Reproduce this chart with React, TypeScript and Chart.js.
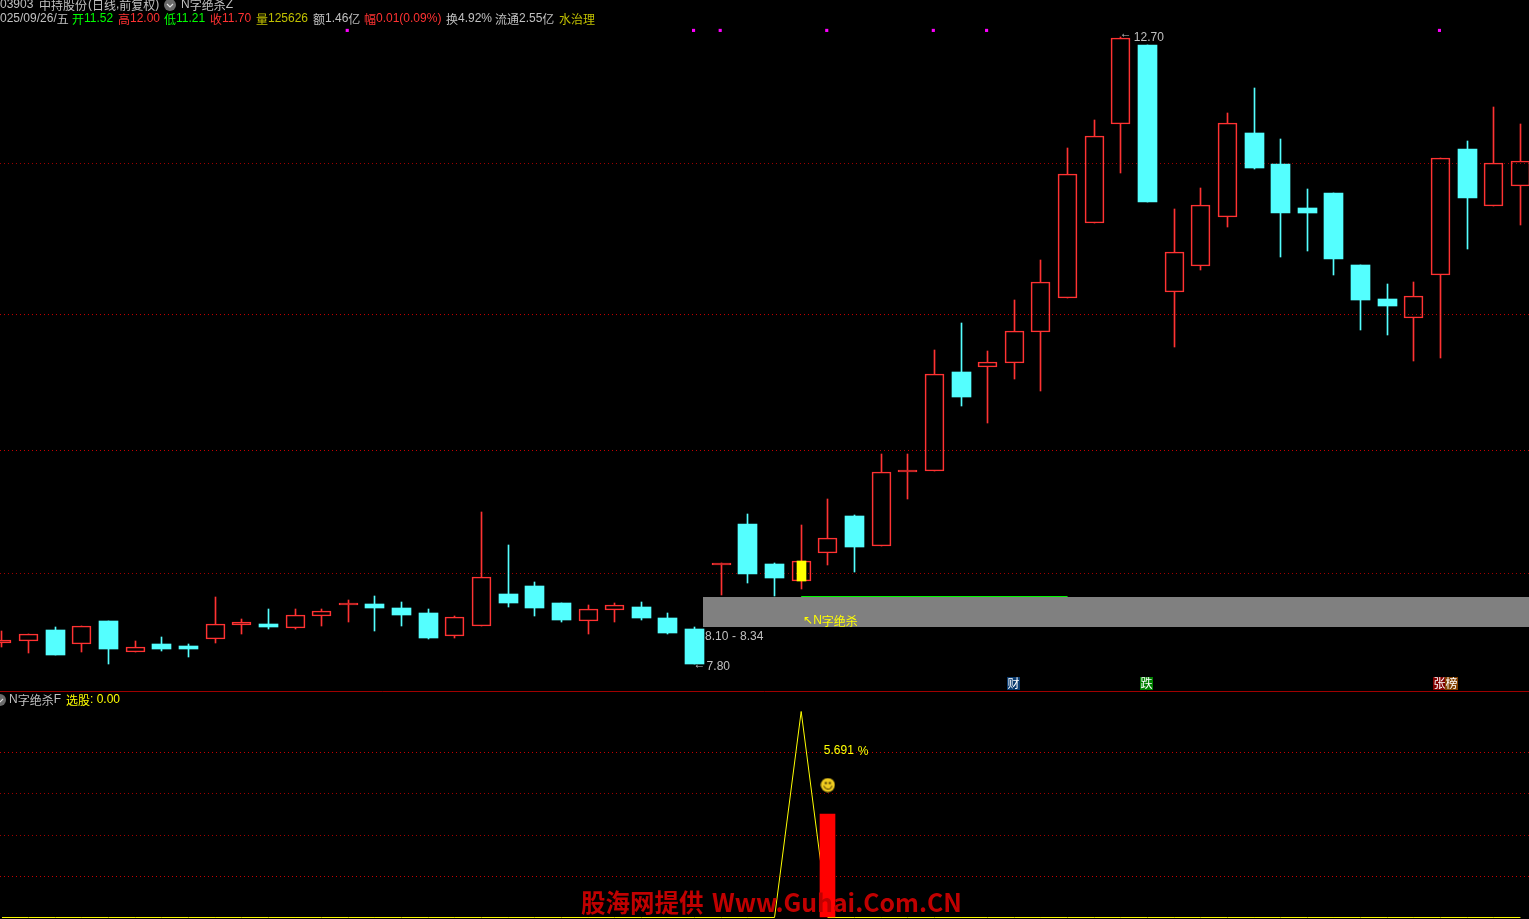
import React, { useEffect, useRef } from "react";
import { Chart, registerables } from "chart.js";

Chart.register(...registerables);

// Daily candles, 0..57, prices
const opens = [7.964,7.98,8.066,7.956,8.136,7.894,7.956,7.941,7.995,8.105,8.113,8.081,8.175,8.261,8.269,8.238,8.198,8.019,8.097,8.347,8.409,8.277,8.136,8.222,8.245,8.159,8.073,8.573,8.894,8.581,8.448,8.667,8.956,8.722,9.3,9.308,10.081,10.12,10.152,10.394,10.659,11.245,12.019,12.636,10.706,10.909,11.292,11.948,11.706,11.363,11.48,10.917,10.652,10.503,10.839,11.823,11.378,11.534];
const closes = [7.988,8.034,7.87,8.097,7.917,7.933,7.917,7.917,8.113,8.128,8.089,8.183,8.214,8.277,8.238,8.183,8.003,8.167,8.48,8.277,8.238,8.144,8.23,8.261,8.159,8.042,7.8,8.589,8.503,8.472,8.605,8.784,8.714,9.3,9.316,10.066,9.886,10.159,10.402,10.784,11.628,11.925,12.691,11.409,11.019,11.386,12.027,11.675,11.323,11.323,10.964,10.644,10.597,10.675,11.753,11.441,11.714,11.73];
const highs = [8.058,8.034,8.089,8.097,8.136,7.98,8.011,7.956,8.323,8.152,8.23,8.23,8.23,8.3,8.331,8.284,8.23,8.175,8.988,8.73,8.441,8.277,8.261,8.277,8.284,8.198,8.089,8.589,8.972,8.589,8.886,9.089,8.964,9.441,9.441,10.253,10.464,10.245,10.644,10.956,11.831,12.05,12.7,12.636,11.355,11.519,12.105,12.3,11.902,11.511,11.48,10.917,10.769,10.784,11.753,11.886,12.152,12.019];
const lows = [7.933,7.886,7.87,7.894,7.8,7.894,7.902,7.855,7.964,8.034,8.073,8.073,8.097,8.128,8.058,8.097,7.995,8.003,8.097,8.245,8.175,8.128,8.034,8.128,8.144,8.034,7.8,8.339,8.433,8.331,8.386,8.573,8.519,8.722,9.089,9.308,9.816,9.683,10.027,9.933,10.659,11.245,11.636,11.409,10.277,10.878,11.214,11.667,10.98,11.027,10.839,10.409,10.37,10.167,10.191,11.042,11.378,11.23];

const dimLevels = [11.71, 8.507];
const brightLevels = [10.53, 9.468];
const lowerLevels = [0.801, 0.602, 0.398, 0.199];
const dividerValue = 1.097;

const markerDays = [13, 26, 27, 31, 35, 37, 54];
const markerPrice = 12.75;

const highDay = 42;
const lowDay = 26;
const highlightDay = 30;
const bandRange = [8.0891, 8.3234];
const bandStart = 26.3146;
const greenDays = [30, 40];
const greenPrice = 8.327;

const signal = [0,0,0,0,0,0,0,0,0,0,0,0,0,0,0,0,0,0,0,0,0,0,0,0,0,0,0,0,0,0,1,0,0,0,0,0,0,0,0,0,0,0,0,0,0,0,0,0,0,0,0,0,0,0,0,0,0,0];
const signalBarDay = 31;
const signalBarValue = 0.5;
const smileValue = 0.643;

const X_MIN = -0.07432;
const X_MAX = 57.3206;
const Y_TOP = 12.9875;
const Y_BOTTOM = 5.8078;
const Y1_TOP = 4.4539;
const Y1_BOTTOM = -0.0073;

const RED = "#ff3232";
const CYAN = "#54ffff";
const GREY = "#c0c0c0";
const YELLOW = "#ffff00";
const DARKY = "#c0c000";
const GREEN = "#00ff00";

const days = opens.map((_, i) => i);
const isUp = (i: number) => closes[i] >= opens[i];

const CJK = /[\u3000-\u9fff\uff00-\uffef]+|[^\u3000-\u9fff\uff00-\uffef]+/g;

function run(ctx: CanvasRenderingContext2D, text: string, x: number, y: number, color: string) {
  let cx = x;
  ctx.fillStyle = color;
  ctx.textBaseline = "middle";
  ctx.textAlign = "left";
  for (const part of text.match(CJK) || []) {
    const cjk = /[\u3000-\u9fff\uff00-\uffef]/.test(part);
    ctx.font = cjk ? '12px "Noto Sans CJK SC"' : '12px "Liberation Sans"';
    ctx.fillText(part, cx, y);
    cx += ctx.measureText(part).width;
  }
}

function badge(ctx: CanvasRenderingContext2D, text: string, x: number, y: number, bg: string) {
  ctx.fillStyle = bg;
  ctx.fillRect(x, y, 13, 13);
  ctx.fillStyle = "#ffffff";
  ctx.font = '12px "Noto Sans CJK SC"';
  ctx.textBaseline = "middle";
  ctx.textAlign = "center";
  ctx.fillText(text, x + 6.5, y + 6.5);
}

function icon(ctx: CanvasRenderingContext2D, x: number, y: number) {
  ctx.fillStyle = "#6a6a6a";
  ctx.beginPath();
  ctx.arc(x, y, 6, 0, Math.PI * 2);
  ctx.fill();
  ctx.strokeStyle = "#e0e0e0";
  ctx.lineWidth = 1.2;
  ctx.beginPath();
  ctx.moveTo(x - 3, y - 1);
  ctx.lineTo(x, y + 2);
  ctx.lineTo(x + 3, y - 1);
  ctx.stroke();
}

function smileCanvas() {
  const c = document.createElement("canvas");
  c.width = 15;
  c.height = 15;
  const g = c.getContext("2d")!;
  g.fillStyle = "#f0cc20";
  g.beginPath();
  g.arc(7.5, 7.5, 7, 0, Math.PI * 2);
  g.fill();
  g.fillStyle = "#403000";
  g.fillRect(4.5, 4.5, 2, 2);
  g.fillRect(8.5, 4.5, 2, 2);
  g.strokeStyle = "#403000";
  g.lineWidth = 1;
  g.beginPath();
  g.arc(7.5, 7.5, 4, 0.2, Math.PI - 0.2);
  g.stroke();
  return c;
}

const snapBars = {
  id: "snapBars",
  beforeDatasetsDraw(chart: any) {
    chart.data.datasets.forEach((ds: any, i: number) => {
      if (ds.type === "line" || ds.type === "scatter") return;
      for (const el of chart.getDatasetMeta(i).data) {
        el.x = Math.floor(el.x) + 0.5;
        el.y = Math.round(el.y);
        el.base = Math.round(el.base);
      }
    });
  },
};

const textLayer = {
  id: "textLayer",
  afterDatasetsDraw(chart: any) {
    const ctx: CanvasRenderingContext2D = chart.ctx;
    const { x: xs, y: ys, y1 } = chart.scales;
    ctx.save();

    // header rows
    run(ctx, "603903", -6.67, 5, GREY);
    run(ctx, "中持股份", 39, 5, GREY);
    run(ctx, "(日线,前复权)", 88, 5, GREY);
    icon(ctx, 170, 5);
    run(ctx, "N字绝杀Z", 181, 5, GREY);

    run(ctx, "2025/09/26/五", -6.67, 19, GREY);
    run(ctx, "开", 72, 19, GREEN);
    run(ctx, "11.52", 84, 19, GREEN);
    run(ctx, "高", 118, 19, RED);
    run(ctx, "12.00", 130, 19, RED);
    run(ctx, "低", 164, 19, GREEN);
    run(ctx, "11.21", 176, 19, GREEN);
    run(ctx, "收", 210, 19, RED);
    run(ctx, "11.70", 222, 19, RED);
    run(ctx, "量", 256, 19, DARKY);
    run(ctx, "125626", 268, 19, DARKY);
    run(ctx, "额1.46亿", 313, 19, GREY);
    run(ctx, "幅", 364, 19, RED);
    run(ctx, "0.01(0.09%)", 376, 19, RED);
    run(ctx, "换4.92%", 446, 19, GREY);
    run(ctx, "流通2.55亿", 495, 19, GREY);
    run(ctx, "水治理", 559, 19, DARKY);

    // chart annotations, anchored on the scales
    const px = (i: number) => xs.getPixelForValue(i);
    run(ctx, "←", px(highDay) - 1, ys.getPixelForValue(highs[highDay]) - 3, GREY);
    run(ctx, "12.70", px(highDay) + 13, ys.getPixelForValue(highs[highDay]) + 1, GREY);
    run(ctx, "←", px(lowDay) - 1, ys.getPixelForValue(lows[lowDay]) + 1, GREY);
    run(ctx, "7.80", px(lowDay) + 12, ys.getPixelForValue(lows[lowDay]) + 3, GREY);
    const bandLow = ys.getPixelForValue(bandRange[0]);
    run(ctx, "8.10", 705, bandLow + 10, GREY);
    run(ctx, "-", 732, bandLow + 10, GREY);
    run(ctx, "8.34", 740, bandLow + 10, GREY);
    run(ctx, "↖", px(highlightDay) + 2, bandLow - 6, YELLOW);
    run(ctx, "N字绝杀", px(highlightDay) + 12, bandLow - 6, YELLOW);

    run(ctx, "5.691", px(signalBarDay) - 4, y1.getPixelForValue(0.81), YELLOW);
    run(ctx, "%", px(signalBarDay) + 30, y1.getPixelForValue(0.806), YELLOW);

    // event badges
    badge(ctx, "财", 1007, 677, "#0a3a6e");
    badge(ctx, "跌", 1140, 677, "#008000");
    badge(ctx, "张", 1433, 677, "#800000");
    badge(ctx, "榜", 1445, 677, "#804000");

    // lower panel title
    icon(ctx, 0, 700);
    run(ctx, "N字绝杀F", 9, 700, GREY);
    run(ctx, "选股", 66, 700, YELLOW);
    run(ctx, ": 0.00", 90, 700, YELLOW);

    // watermark
    ctx.fillStyle = "#c00000";
    ctx.textBaseline = "middle";
    ctx.textAlign = "left";
    ctx.font = 'bold 24.5px "Noto Sans CJK SC"';
    ctx.fillText("股海网提供", 581, 903);
    ctx.font = 'bold 24.8px "Noto Sans CJK SC"';
    ctx.fillText("Www.Guhai.Com.CN", 712, 903);
    ctx.restore();
  },
};

const hLine = (value: number, axis: string, color: string, dash: number[], order: number) => ({
  type: "line",
  yAxisID: axis,
  data: [{ x: X_MIN, y: value }, { x: X_MAX, y: value }],
  borderColor: color,
  borderWidth: 1,
  borderDash: dash,
  pointRadius: 0,
  order,
});

export default function App() {
  const ref = useRef<HTMLCanvasElement | null>(null);

  useEffect(() => {
    document.body.style.margin = "0";
    document.body.style.background = "#000";
    const wick = (from: (i: number) => number, to: (i: number) => number) => ({
      type: "bar",
      grouped: false,
      barThickness: 1,
      borderSkipped: false,
      borderWidth: 0,
      backgroundColor: days.map((i) => (isUp(i) ? RED : CYAN)),
      data: days.map((i) => ({ x: i, y: [from(i), to(i)] })),
      order: 6,
    });
    const chart = new Chart(ref.current as HTMLCanvasElement, {
      type: "bar",
      data: {
        datasets: [
          ...dimLevels.map((v) => hLine(v, "y", "#a00000", [1, 3], 40)),
          ...brightLevels.map((v) => hLine(v, "y", "#c80000", [1, 3], 40)),
          ...lowerLevels.map((v, i) => hLine(v, "y1", i % 3 === 0 ? "#c80000" : "#a00000", [1, 3], 40)),
          hLine(dividerValue, "y1", "#a00000", [], 40),
          {
            type: "line",
            data: [{ x: bandStart, y: bandRange[1] }, { x: X_MAX, y: bandRange[1] }],
            fill: { value: bandRange[0] },
            backgroundColor: "#808080",
            borderWidth: 0,
            pointRadius: 0,
            order: 30,
          },
          {
            type: "line",
            data: greenDays.map((d) => ({ x: d, y: greenPrice })),
            borderColor: "#00ff00",
            borderWidth: 1,
            pointRadius: 0,
            order: 5,
          },
          wick((i) => Math.max(opens[i], closes[i]), (i) => highs[i]),
          wick((i) => Math.min(opens[i], closes[i]), (i) => lows[i]),
          {
            type: "bar",
            grouped: false,
            barThickness: 19,
            borderSkipped: false,
            borderWidth: 1,
            borderColor: RED,
            backgroundColor: "rgba(0,0,0,0)",
            data: days.filter(isUp).map((i) => ({ x: i, y: [opens[i], closes[i]] })),
            order: 4,
          },
          {
            type: "bar",
            grouped: false,
            barThickness: 19,
            borderSkipped: false,
            borderWidth: 0,
            backgroundColor: CYAN,
            data: days.filter((i) => !isUp(i)).map((i) => ({ x: i, y: [opens[i], closes[i]] })),
            order: 4,
          },
          {
            type: "bar",
            grouped: false,
            barThickness: 9,
            borderSkipped: false,
            borderWidth: 0,
            backgroundColor: YELLOW,
            data: [{ x: highlightDay, y: [opens[highlightDay], closes[highlightDay]] }],
            order: 3,
          },
          {
            type: "scatter",
            data: markerDays.map((d) => ({ x: d - 0.04, y: markerPrice })),
            pointStyle: "rect",
            pointRadius: 2.2,
            borderWidth: 0,
            backgroundColor: "#ff00ff",
            order: 2,
          },
          {
            type: "bar",
            yAxisID: "y1",
            grouped: false,
            barThickness: 15,
            borderSkipped: false,
            borderWidth: 0,
            backgroundColor: "#ff0000",
            data: [{ x: signalBarDay, y: [0, signalBarValue] }],
            order: 7,
          },
          {
            type: "line",
            yAxisID: "y1",
            data: days.map((i) => ({ x: i, y: signal[i] })),
            borderColor: YELLOW,
            borderWidth: 1,
            tension: 0,
            pointRadius: 0,
            order: 8,
          },
          {
            type: "scatter",
            yAxisID: "y1",
            data: [{ x: signalBarDay, y: smileValue }],
            pointStyle: smileCanvas(),
            order: 1,
          },
        ] as any,
      },
      options: {
        responsive: false,
        animation: false,
        devicePixelRatio: 1,
        layout: { padding: 0, autoPadding: false },
        events: [],
        plugins: { legend: { display: false }, tooltip: { enabled: false }, title: { display: false } },
        scales: {
          x: { type: "linear", offset: false, min: X_MIN, max: X_MAX, display: false, grid: { display: false } },
          y: { type: "linear", min: Y_BOTTOM, max: Y_TOP, display: false, grid: { display: false } },
          y1: { type: "linear", min: Y1_BOTTOM, max: Y1_TOP, display: false, grid: { display: false } },
        },
      } as any,
      plugins: [snapBars, textLayer],
    } as any);
    return () => chart.destroy();
  }, []);

  return (
    <div style={{ position: "absolute", left: 0, top: 0, width: 1529, height: 919, background: "#000" }}>
      <canvas ref={ref} width={1529} height={919} style={{ display: "block" }} />
    </div>
  );
}
